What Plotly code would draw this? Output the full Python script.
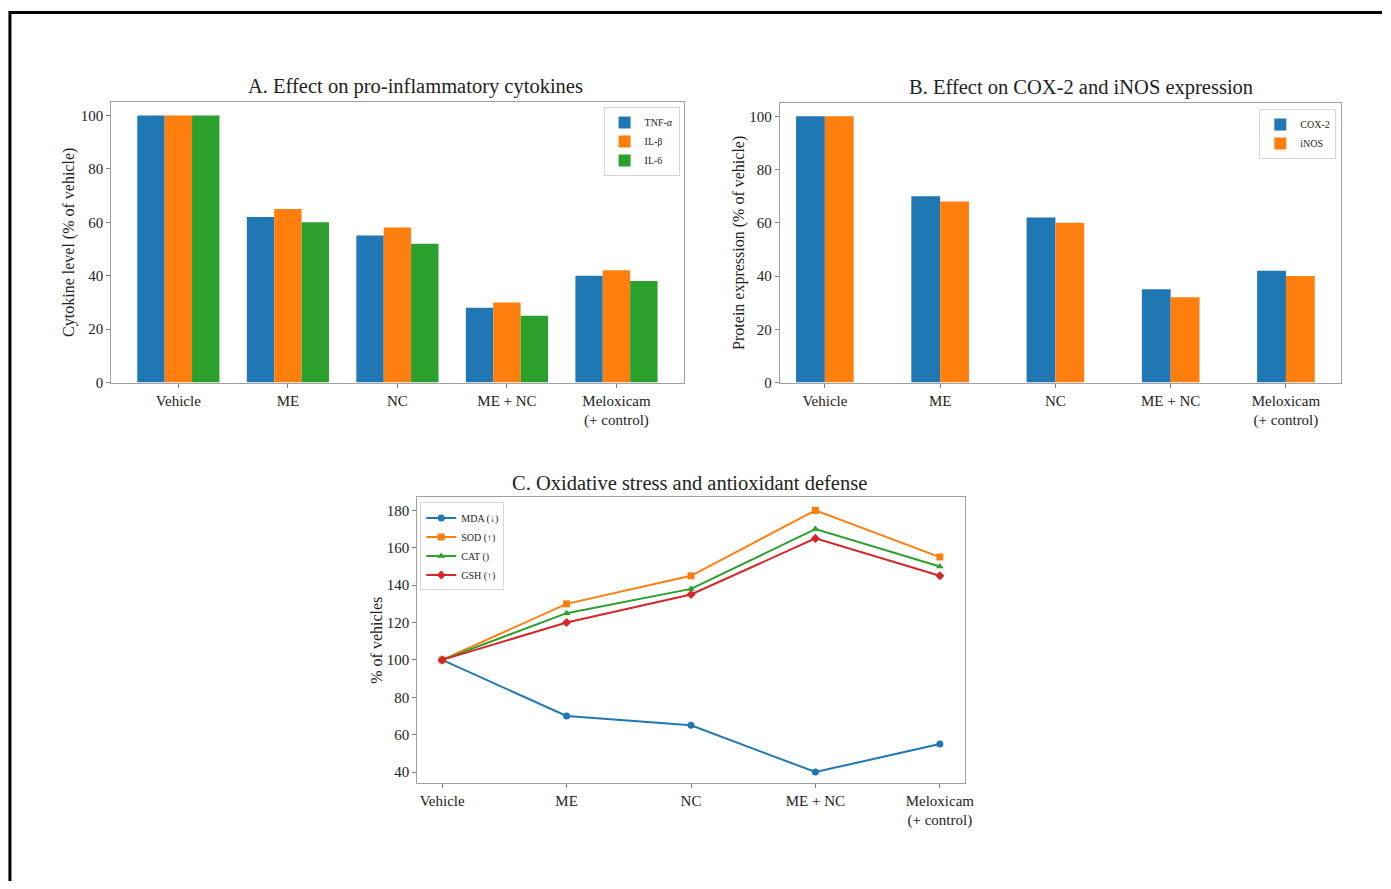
import plotly.graph_objects as go

# Treatment groups shared by all three panels
groups = ["Vehicle", "ME", "NC", "ME + NC", "Meloxicam<br>(+ control)"]

# Panel A: pro-inflammatory cytokines (% of vehicle)
tnf_a = [100, 62, 55, 28, 40]
il_1b = [100, 65, 58, 30, 42]
il_6 = [100, 60, 52, 25, 38]

# Panel B: COX-2 / iNOS protein expression (% of vehicle)
cox2 = [100, 70, 62, 35, 42]
inos = [100, 68, 60, 32, 40]

# Panel C: oxidative stress markers (% of vehicle)
mda = [100, 70, 65, 40, 55]
sod = [100, 130, 145, 180, 155]
cat = [100, 125, 138, 170, 150]
gsh = [100, 120, 135, 165, 145]

BLUE, ORANGE, GREEN, RED = "#1f77b4", "#ff7f0e", "#2ca02c", "#d62728"
FONT = "Liberation Serif, Times New Roman, serif"
W, H = 1391, 889
BAR_W = 0.25

fig = go.Figure()

# ---- Panel A bars: three side-by-side bars per group
for i, (name, vals, col) in enumerate([("TNF-α", tnf_a, BLUE), ("IL-β", il_1b, ORANGE), ("IL-6", il_6, GREEN)]):
    fig.add_trace(go.Bar(x=groups, y=vals, name=name, marker=dict(color=col, line=dict(width=0)),
                         width=BAR_W, offset=(i - 1.5) * BAR_W,
                         xaxis="x", yaxis="y", legend="legend"))

# ---- Panel B bars: two side-by-side bars per group
for i, (name, vals, col) in enumerate([("COX-2", cox2, BLUE), ("iNOS", inos, ORANGE)]):
    fig.add_trace(go.Bar(x=groups, y=vals, name=name, marker=dict(color=col, line=dict(width=0)),
                         width=BAR_W, offset=(i - 1) * BAR_W,
                         xaxis="x2", yaxis="y2", legend="legend2"))

# ---- Panel C lines
for name, vals, col, sym in [("MDA (↓)", mda, BLUE, "circle"), ("SOD (↑)", sod, ORANGE, "square"),
                             ("CAT ()", cat, GREEN, "triangle-up"), ("GSH (↑)", gsh, RED, "diamond")]:
    fig.add_trace(go.Scatter(x=groups, y=vals, name=name, mode="lines+markers",
                             line=dict(color=col, width=2), marker=dict(symbol=sym, size=7, color=col),
                             xaxis="x3", yaxis="y3", legend="legend3"))


def px_x(p):
    return p / W


def px_y(p):
    return 1 - p / H


axis_common = dict(showline=True, mirror=True, linecolor="#a0a0a0", linewidth=1.2,
                   ticks="outside", ticklen=4, tickcolor="#808080", showgrid=False, zeroline=False,
                   tickfont=dict(family=FONT, size=15, color="#222"))

legend_common = dict(font=dict(family=FONT, size=10, color="#222"), bgcolor="rgba(255,255,255,0.9)",
                     bordercolor="#d6d6d6", borderwidth=1, xanchor="right", yanchor="top",
                     tracegroupgap=0)

title_font = dict(family=FONT, size=20.5, color="#222")
axis_title_font = dict(family=FONT, size=16, color="#222")

fig.update_layout(
    width=W, height=H, margin=dict(l=0, r=0, t=0, b=0),
    paper_bgcolor="white", plot_bgcolor="white",
    font=dict(family=FONT, size=15, color="#222"),
    barmode="overlay",
    xaxis=dict(domain=[px_x(112), px_x(688)], anchor="y", type="category",
               range=[-0.6125, 4.6125], **axis_common),
    yaxis=dict(domain=[px_y(386), px_y(103)], anchor="x", range=[0, 105],
               tickvals=[0, 20, 40, 60, 80, 100],
               title=dict(text="Cytokine level (% of vehicle)", font=axis_title_font, standoff=2),
               **axis_common),
    xaxis2=dict(domain=[px_x(785), px_x(1350)], anchor="y2", type="category",
                range=[-0.39, 4.48], **axis_common),
    yaxis2=dict(domain=[px_y(386), px_y(104)], anchor="x2", range=[0, 105],
                tickvals=[0, 20, 40, 60, 80, 100],
                title=dict(text="Protein expression (% of vehicle)", font=axis_title_font, standoff=0),
                **axis_common),
    xaxis3=dict(domain=[px_x(420), px_x(971)], anchor="y3", type="category",
                range=[-0.2, 4.2], **axis_common),
    yaxis3=dict(domain=[px_y(790), px_y(502)], anchor="x3", range=[34.2, 186.9],
                tickvals=[40, 60, 80, 100, 120, 140, 160, 180],
                title=dict(text="% of vehicles", font=axis_title_font, standoff=0),
                **axis_common),
    legend=dict(x=px_x(684), y=px_y(108), **legend_common),
    legend2=dict(x=px_x(1345), y=px_y(110), **legend_common),
    legend3=dict(x=px_x(423), y=px_y(507), **{**legend_common, "xanchor": "left"}),
    annotations=[
        dict(text="A. Effect on pro-inflammatory cytokines", x=px_x(418), y=px_y(87),
             xref="paper", yref="paper", xanchor="center", yanchor="middle",
             showarrow=False, font=title_font),
        dict(text="B. Effect on COX-2 and iNOS expression", x=px_x(1088), y=px_y(88),
             xref="paper", yref="paper", xanchor="center", yanchor="middle",
             showarrow=False, font=title_font),
        dict(text="C. Oxidative stress and antioxidant defense", x=px_x(694), y=px_y(487),
             xref="paper", yref="paper", xanchor="center", yanchor="middle",
             showarrow=False, font=title_font),
    ],
    shapes=[
        dict(type="line", xref="paper", yref="paper", x0=px_x(9), x1=1, y0=px_y(12.5), y1=px_y(12.5),
             line=dict(color="black", width=3)),
        dict(type="line", xref="paper", yref="paper", x0=px_x(10), x1=px_x(10), y0=px_y(11), y1=0,
             line=dict(color="black", width=3)),
    ],
)

fig.write_html("out.html")
